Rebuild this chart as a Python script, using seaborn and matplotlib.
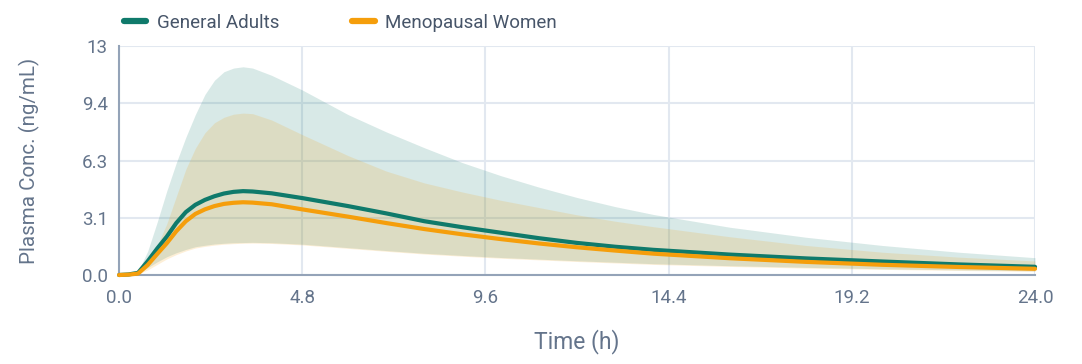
import numpy as np
import pandas as pd
import matplotlib
matplotlib.use("Agg")
import matplotlib.pyplot as plt
import seaborn as sns

# time points (h)
hours = [0, 0.25, 0.5, 0.75, 1.0, 1.25, 1.5, 1.75, 2.0, 2.25, 2.5, 2.75, 3.0, 3.25, 3.5, 4.0,
         4.8, 6, 7, 8, 9, 10, 11, 12, 13, 14, 16, 18, 20, 22, 24]

# General Adults: median and band
ga_median = [0, 0.03, 0.12, 0.75, 1.45, 2.1, 2.85, 3.45, 3.85, 4.12, 4.32, 4.47, 4.56, 4.6, 4.58, 4.48,
             4.22, 3.78, 3.38, 2.95, 2.62, 2.32, 2.02, 1.76, 1.55, 1.38, 1.12, 0.91, 0.74, 0.58, 0.45]
ga_upper = [0, 0.05, 0.2, 1.3, 2.9, 4.6, 6.15, 7.55, 8.8, 9.9, 10.68, 11.15, 11.35, 11.42, 11.35, 10.95,
            10.15, 8.8, 7.85, 6.98, 6.16, 5.45, 4.82, 4.25, 3.75, 3.32, 2.62, 2.07, 1.62, 1.25, 0.95]
ga_lower = [0, 0.02, 0.08, 0.4, 0.72, 1.0, 1.22, 1.4, 1.55, 1.63, 1.7, 1.74, 1.77, 1.78, 1.79, 1.77,
            1.69, 1.5, 1.34, 1.19, 1.07, 0.96, 0.87, 0.78, 0.7, 0.62, 0.51, 0.42, 0.34, 0.28, 0.23]

# Menopausal Women: median and band
mw_median = [0, 0.02, 0.08, 0.55, 1.15, 1.74, 2.4, 2.95, 3.35, 3.6, 3.78, 3.9, 3.96, 3.99, 3.97, 3.88,
             3.6, 3.2, 2.85, 2.52, 2.23, 1.97, 1.73, 1.52, 1.34, 1.17, 0.92, 0.72, 0.56, 0.44, 0.34]
mw_upper = [0, 0.04, 0.15, 0.8, 1.6, 2.8, 4.3, 5.8, 6.95, 7.8, 8.35, 8.65, 8.82, 8.88, 8.85, 8.5,
            7.7, 6.55, 5.7, 5.05, 4.55, 4.1, 3.7, 3.3, 2.95, 2.65, 2.1, 1.62, 1.25, 0.98, 0.77]
mw_lower = [0, 0.01, 0.05, 0.28, 0.58, 0.88, 1.12, 1.32, 1.48, 1.57, 1.64, 1.69, 1.72, 1.74, 1.75, 1.73,
            1.65, 1.46, 1.3, 1.15, 1.03, 0.92, 0.83, 0.74, 0.66, 0.58, 0.47, 0.38, 0.31, 0.25, 0.2]

x_ticks = [0.0, 4.8, 9.6, 14.4, 19.2, 24.0]
y_ticks = [0.0, 3.14, 6.28, 9.42, 12.56]
y_tick_labels = ["0.0", "3.1", "6.3", "9.4", "13"]

teal = "#0f7a6b"
orange = "#f59e0b"

df = pd.DataFrame({
    "Time": hours * 2,
    "Conc": ga_median + mw_median,
    "Group": ["General Adults"] * len(hours) + ["Menopausal Women"] * len(hours),
})

sns.set_theme(style="white")
plt.rcParams["font.family"] = ["Roboto", "DejaVu Sans"]

fig = plt.figure(figsize=(10.82, 3.64), dpi=100)
ax = fig.add_axes([0.110, 0.2445, 0.8466, 0.6291])

# shaded ranges
ax.fill_between(hours, ga_lower, ga_upper, color=teal, alpha=0.16, linewidth=0, zorder=1)
ax.fill_between(hours, mw_lower, mw_upper, color=orange, alpha=0.16, linewidth=0, zorder=1)

sns.lineplot(data=df, x="Time", y="Conc", hue="Group",
             palette={"General Adults": teal, "Menopausal Women": orange},
             linewidth=3, ax=ax, zorder=3, legend=False)
for ln in ax.lines:
    ln.set_solid_capstyle("round")
    ln.set_solid_joinstyle("round")
    ln.set_clip_on(False)

ax.set_xlim(0, 24)
ax.set_ylim(0, 12.56)
ax.set_xticks(x_ticks)
ax.set_xticklabels([f"{t:.1f}" for t in x_ticks])
ax.set_yticks(y_ticks)
ax.set_yticklabels(y_tick_labels)

ax.grid(True, color="#e2e8f0", linewidth=1.5)
ax.set_axisbelow(True)
for side in ["top", "right"]:
    ax.spines[side].set_visible(False)
for side in ["left", "bottom"]:
    ax.spines[side].set_color("#94a3b8")
    ax.spines[side].set_linewidth(1.5)

ax.tick_params(axis="both", length=0, labelsize=13.5, labelcolor="#64748b")
ax.tick_params(axis="x", pad=10)
ax.tick_params(axis="y", pad=8)

ax.set_xlabel("Time (h)", fontsize=16.5, color="#64748b", labelpad=16)
ax.set_ylabel("Plasma Conc. (ng/mL)", fontsize=14.8, color="#64748b", labelpad=30)

handles = [plt.Line2D([], [], color=teal, linewidth=4.5, solid_capstyle="round"),
           plt.Line2D([], [], color=orange, linewidth=4.5, solid_capstyle="round")]
fig.legend(handles, ["General Adults", "Menopausal Women"], loc="center left",
           bbox_to_anchor=(0.099, 0.938), ncol=2, frameon=False, fontsize=13.5,
           labelcolor="#475569", handlelength=1.2, handletextpad=0.55, columnspacing=3.9)

fig.savefig("out.png", dpi=100)
